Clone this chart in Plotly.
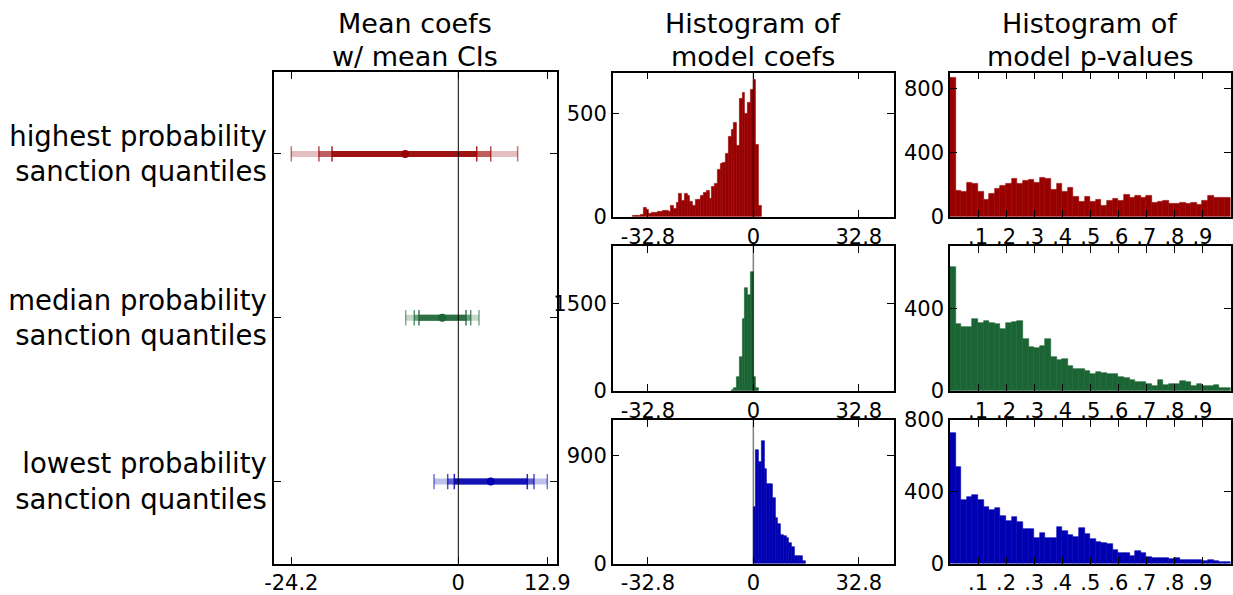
import plotly.graph_objects as go

# ---------------- data ----------------
groups = ["highest probability<br>sanction quantiles",
          "median probability<br>sanction quantiles",
          "lowest probability<br>sanction quantiles"]
means = [-7.7, -2.32, 4.7]
ci_outer_lo = [-24.2, -7.62, -3.52]
ci_outer_hi = [8.6, 3.0, 12.9]
ci_mid_lo = [-20.2, -6.38, -1.54]
ci_mid_hi = [4.7, 1.8, 10.97]
ci_inner_lo = [-18.3, -5.7, -0.58]
ci_inner_hi = [2.67, 1.12, 10.0]
left_ticks = [-24.2, 0, 12.9]
left_ticktext = ["-24.2", "0", "12.9"]

coef_bin_width = 0.854
coef_ticks = [-32.8, 0, 32.8]
coef_ticktext = ["-32.8", "0", "32.8"]
high_coef_first_bin = -44
high_coef_counts = [3, 3, 6, 8, 43, 35, 15, 19, 21, 23, 26, 28, 28, 26, 52, 40, 68, 110, 77, 110,
                    100, 73, 52, 81, 84, 100, 115, 124, 89, 145, 158, 226, 255, 261, 306, 387, 419,
                    455, 342, 568, 600, 500, 552, 616, 664, 347, 52]
med_coef_first_bin = -8
med_coef_counts = [17, 46, 240, 584, 1231, 1769, 1643, 2032, 240, 40]
low_coef_first_bin = 0
low_coef_counts = [471, 947, 850, 1022, 786, 665, 660, 545, 379, 330, 241, 227, 213, 172, 138,
                   66, 61, 66, 19]

p_bin_width = 0.02
p_ticks = [0.1, 0.2, 0.3, 0.4, 0.5, 0.6, 0.7, 0.8, 0.9]
p_ticktext = [".1", ".2", ".3", ".4", ".5", ".6", ".7", ".8", ".9"]
high_p_counts = [873, 163, 159, 215, 207, 159, 109, 146, 178, 194, 205, 236, 205, 224, 230, 211,
                 242, 240, 169, 207, 155, 180, 127, 94, 127, 94, 109, 69, 102, 115, 100, 136, 121,
                 130, 119, 134, 88, 94, 100, 79, 84, 90, 79, 88, 77, 98, 134, 117, 121, 121]
med_p_counts = [603, 326, 309, 312, 350, 329, 340, 331, 326, 302, 329, 337, 340, 251, 215, 210,
                218, 250, 164, 152, 154, 119, 107, 104, 94, 79, 89, 88, 79, 83, 69, 64, 50, 43, 43,
                33, 23, 51, 26, 35, 33, 46, 41, 25, 33, 25, 21, 30, 12, 12]
low_p_counts = [726, 537, 356, 370, 380, 352, 313, 296, 307, 263, 239, 259, 230, 193, 193, 143,
                169, 144, 144, 202, 183, 161, 150, 196, 163, 137, 120, 115, 106, 74, 61, 56, 44,
                69, 56, 35, 33, 28, 30, 24, 28, 22, 20, 20, 17, 13, 17, 13, 11, 11]

colors = [(153, 0, 0), (27, 100, 51), (0, 0, 178)]

# ---------------- figure ----------------
W, H = 1233, 595
FONT = "DejaVu Sans"


def rgba(c, a):
    return "rgba(%d,%d,%d,%.2f)" % (c[0], c[1], c[2], a)


def px_x(p):
    return p / W


def px_y(p):
    return 1 - p / H


fig = go.Figure()

# left panel: CI bars
levels = [(ci_outer_lo, ci_outer_hi, 0.25, 0.55),
          (ci_mid_lo, ci_mid_hi, 0.5, 0.7),
          (ci_inner_lo, ci_inner_hi, 0.8, 0.85)]
for gi, g in enumerate(groups):
    c = colors[gi]
    for lo, hi, a, ca in levels:
        fig.add_trace(go.Scatter(x=[lo[gi], hi[gi]], y=[g, g], mode="lines",
                                 line=dict(color=rgba(c, a), width=6),
                                 xaxis="x", yaxis="y", hoverinfo="skip", showlegend=False))
        fig.add_trace(go.Scatter(x=[lo[gi], hi[gi]], y=[g, g], mode="markers",
                                 marker=dict(symbol="line-ns", size=11,
                                             line=dict(color=rgba(c, ca), width=1.5)),
                                 xaxis="x", yaxis="y", hoverinfo="skip", showlegend=False))
    fig.add_trace(go.Scatter(x=[means[gi]], y=[g], mode="markers",
                             marker=dict(symbol="circle", size=8, color=rgba(c, 1)),
                             xaxis="x", yaxis="y", showlegend=False))

# coef histograms
coef_sets = [(high_coef_first_bin, high_coef_counts),
             (med_coef_first_bin, med_coef_counts),
             (low_coef_first_bin, low_coef_counts)]
for i, (fb, counts) in enumerate(coef_sets):
    xs = [(fb + k + 0.5) * coef_bin_width for k in range(len(counts))]
    fig.add_trace(go.Bar(x=xs, y=counts, width=coef_bin_width,
                         marker=dict(color=rgba(colors[i], 1),
                                     line=dict(width=0.6, color=rgba(colors[i], 1))),
                         xaxis="x%d" % (i + 2), yaxis="y%d" % (i + 2), showlegend=False))

# p-value histograms
p_sets = [high_p_counts, med_p_counts, low_p_counts]
for i, counts in enumerate(p_sets):
    xs = [(k + 0.5) * p_bin_width for k in range(len(counts))]
    fig.add_trace(go.Bar(x=xs, y=counts, width=p_bin_width,
                         marker=dict(color=rgba(colors[i], 1),
                                     line=dict(width=0.6, color=rgba(colors[i], 1))),
                         xaxis="x%d" % (i + 5), yaxis="y%d" % (i + 5), showlegend=False))

axis_common = dict(showline=True, linecolor="black", linewidth=1.5, mirror="ticks",
                   ticks="inside", ticklen=7, tickwidth=1, tickcolor="black",
                   showgrid=False, zeroline=False, automargin=False,
                   tickfont=dict(family=FONT, size=21, color="black"))

rows_px = [(72.7, 216.7), (246, 390.7), (420, 563.5)]
left_dom = [px_x(274), px_x(556.7)]
mid_dom = [px_x(612.7), px_x(894)]
right_dom = [px_x(950), px_x(1230.5)]

layout = dict(template="none", width=W, height=H,
              margin=dict(l=0, r=0, t=0, b=0, pad=0, autoexpand=False),
              paper_bgcolor="white", plot_bgcolor="white", showlegend=False,
              font=dict(family=FONT, color="black"), bargap=0)

layout["xaxis"] = dict(axis_common, domain=left_dom, anchor="y", range=[-26.71, 14.26],
                       tickvals=left_ticks, ticktext=left_ticktext)
layout["yaxis"] = dict(axis_common, domain=[px_y(563.5), px_y(72)], anchor="x",
                       type="category", categoryarray=groups[::-1], range=[-0.5, 2.5],
                       tickfont=dict(family=FONT, size=27.5, color="black"),
                       ticklabelstandoff=0)

coef_ranges = [696, 2483, 1197]
coef_yticks = [[0, 500], [0, 1500], [0, 900]]
p_ranges = [902, 705, 800]
p_yticks = [[0, 400, 800], [0, 400], [0, 400, 800]]
for i in range(3):
    ydom = [px_y(rows_px[i][1]), px_y(rows_px[i][0])]
    n = i + 2
    layout["xaxis%d" % n] = dict(axis_common, domain=mid_dom, anchor="y%d" % n,
                                 range=[-43.73, 43.73], tickvals=coef_ticks,
                                 ticktext=coef_ticktext)
    layout["yaxis%d" % n] = dict(axis_common, domain=ydom, anchor="x%d" % n,
                                 range=[0, coef_ranges[i]], tickvals=coef_yticks[i])
    m = i + 5
    layout["xaxis%d" % m] = dict(axis_common, domain=right_dom, anchor="y%d" % m,
                                 range=[0, 1], tickvals=p_ticks, ticktext=p_ticktext)
    layout["yaxis%d" % m] = dict(axis_common, domain=ydom, anchor="x%d" % m,
                                 range=[0, p_ranges[i]], tickvals=p_yticks[i])

shapes = [dict(type="line", xref="x", yref="y domain", x0=0, x1=0, y0=0, y1=1,
               line=dict(color="black", width=1), layer="above")]
for i in range(3):
    n = i + 2
    shapes.append(dict(type="line", xref="x%d" % n, yref="y%d domain" % n, x0=0, x1=0,
                       y0=0, y1=1, line=dict(color="rgba(0,0,0,0.5)", width=1.5),
                       layer="above"))
layout["shapes"] = shapes

titles = [("Mean coefs", "w/ mean CIs", 415.3),
          ("Histogram of", "model coefs", 753.3),
          ("Histogram of", "model p-values", 1090.3)]
ann = []
for l1, l2, cx in titles:
    ann.append(dict(text=l1, x=px_x(cx), y=px_y(24), xref="paper", yref="paper",
                    xanchor="center", yanchor="middle", showarrow=False,
                    font=dict(family=FONT, size=27, color="black")))
    ann.append(dict(text=l2, x=px_x(cx), y=px_y(56), xref="paper", yref="paper",
                    xanchor="center", yanchor="middle", showarrow=False,
                    font=dict(family=FONT, size=27, color="black")))
layout["annotations"] = ann

fig.update_layout(**layout)
fig.write_html("out.html")
